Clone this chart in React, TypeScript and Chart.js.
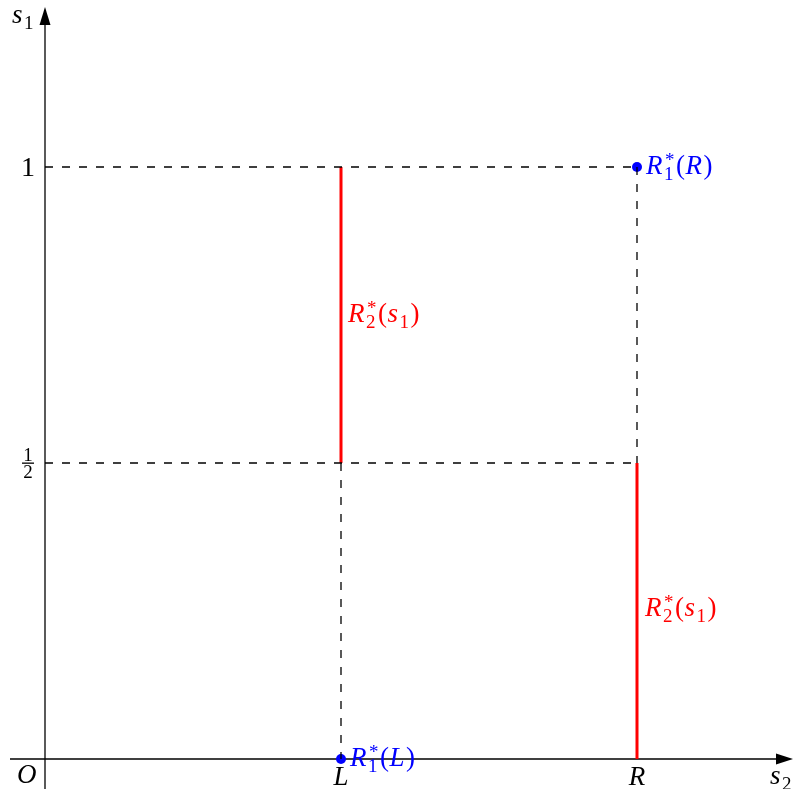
import React, { useEffect, useRef } from "react";
import { Chart, registerables } from "chart.js";
Chart.register(...registerables);

const W = 794;
const H = 789;

// ---- data ----
const xTickValues = [0.5, 1];
const xTickLabels = ["L", "R"];
const yTickValues = [0.5, 1];
const yTickLabels = ["1/2", "1"];

// best response of player 2 (red segments)
const r2LeftX = [0.5, 0.5];
const r2LeftY = [0.5, 1];
const r2RightX = [1, 1];
const r2RightY = [0, 0.5];

// best response of player 1 (blue points)
const r1PointX = [0.5, 1];
const r1PointY = [0, 1];
const r1PointArgs = ["L", "R"];

// dashed guide lines
const guideTopX = [0, 1];
const guideTopY = [1, 1];
const guideHalfX = [0, 1];
const guideHalfY = [0.5, 0.5];
const guideLX = [0.5, 0.5];
const guideLY = [0.5, 0];
const guideRX = [1, 1];
const guideRY = [1, 0.5];

const F = "'Liberation Serif', 'DejaVu Serif', serif";
const BLUE = "#0000ff";
const RED = "#ff0000";

const pts = (xs: number[], ys: number[]) => xs.map((x, i) => ({ x, y: ys[i] }));

type Seg = { t?: string; it?: boolean; sup?: string; sub?: string };

function drawMath(ctx: CanvasRenderingContext2D, x: number, y: number, segs: Seg[], size: number, color: string) {
  ctx.save();
  ctx.fillStyle = color;
  ctx.textBaseline = "alphabetic";
  ctx.textAlign = "left";
  let cx = x;
  for (const s of segs) {
    if (s.sup !== undefined || s.sub !== undefined) {
      const small = Math.round(size * 0.7);
      ctx.font = `${small}px ${F}`;
      let w = 0;
      if (s.sup) {
        ctx.fillText(s.sup, cx + 1, y - size * 0.28);
        w = Math.max(w, ctx.measureText(s.sup).width + 1);
      }
      if (s.sub) {
        ctx.fillText(s.sub, cx, y + size * 0.22);
        w = Math.max(w, ctx.measureText(s.sub).width);
      }
      cx += w + 1.5;
    } else if (s.t) {
      ctx.font = `${s.it ? "italic " : ""}${size}px ${F}`;
      ctx.fillText(s.t, cx, y);
      cx += ctx.measureText(s.t).width + (s.it ? 1.5 : 0.5);
    }
  }
  ctx.restore();
}

const axesPlugin = {
  id: "axesPlugin",
  beforeDatasetsDraw(chart: any) {
    const ctx: CanvasRenderingContext2D = chart.ctx;
    const xs = chart.scales.x;
    const ys = chart.scales.y;
    const ox = xs.getPixelForValue(0);
    const oy = ys.getPixelForValue(0);
    ctx.save();
    ctx.strokeStyle = "#000";
    ctx.fillStyle = "#000";
    ctx.lineWidth = 1.3;
    // y axis
    ctx.beginPath();
    ctx.moveTo(ox, H);
    ctx.lineTo(ox, 20);
    ctx.stroke();
    ctx.beginPath();
    ctx.moveTo(ox, 7);
    ctx.lineTo(ox - 5.5, 25);
    ctx.lineTo(ox + 5.5, 25);
    ctx.closePath();
    ctx.fill();
    // x axis
    ctx.beginPath();
    ctx.moveTo(10, oy);
    ctx.lineTo(W - 15, oy);
    ctx.stroke();
    ctx.beginPath();
    ctx.moveTo(W - 1, oy);
    ctx.lineTo(W - 18, oy - 5.5);
    ctx.lineTo(W - 18, oy + 5.5);
    ctx.closePath();
    ctx.fill();
    ctx.restore();
  },
  afterDatasetsDraw(chart: any) {
    const ctx: CanvasRenderingContext2D = chart.ctx;
    const xs = chart.scales.x;
    const ys = chart.scales.y;
    const S = 27;
    // axis names
    drawMath(ctx, 12, 23, [{ t: "s", it: true }, { sub: "1" }], S, "#000");
    drawMath(ctx, W - 24, 784, [{ t: "s", it: true }, { sub: "2" }], S, "#000");
    drawMath(ctx, 17, 783, [{ t: "O", it: true }], S, "#000");
    // x ticks
    ctx.save();
    ctx.fillStyle = "#000";
    ctx.textAlign = "center";
    ctx.textBaseline = "alphabetic";
    ctx.font = `italic ${S}px ${F}`;
    xTickValues.forEach((v, i) => {
      ctx.fillText(xTickLabels[i], xs.getPixelForValue(v), 785);
    });
    // y ticks
    yTickValues.forEach((v, i) => {
      const py = ys.getPixelForValue(v);
      const lab = yTickLabels[i];
      if (lab.includes("/")) {
        const [n, d] = lab.split("/");
        ctx.font = `${19}px ${F}`;
        ctx.textAlign = "center";
        ctx.fillText(n, 28, py - 2);
        ctx.fillText(d, 28, py + 15);
        ctx.fillRect(22, py - 0.5, 12, 1.3);
      } else {
        ctx.font = `${S + 1}px ${F}`;
        ctx.textAlign = "right";
        ctx.fillText(lab, 35, py + 9);
      }
    });
    ctx.restore();
    // R1* labels
    r1PointX.forEach((v, i) => {
      const px = xs.getPixelForValue(v);
      const py = ys.getPixelForValue(r1PointY[i]);
      drawMath(
        ctx,
        px + 9,
        py + 7,
        [{ t: "R", it: true }, { sup: "*", sub: "1" }, { t: "(" }, { t: r1PointArgs[i], it: true }, { t: ")" }],
        S,
        BLUE
      );
    });
    // R2* labels
    const r2Lab: Seg[] = [{ t: "R", it: true }, { sup: "*", sub: "2" }, { t: "(" }, { t: "s", it: true }, { sub: "1" }, { t: ")" }];
    drawMath(ctx, xs.getPixelForValue(r2LeftX[0]) + 7, ys.getPixelForValue(0.75) + 7, r2Lab, S, RED);
    drawMath(ctx, xs.getPixelForValue(r2RightX[0]) + 8, ys.getPixelForValue(0.25) + 5, r2Lab, S, RED);
  },
};

export default function App() {
  const ref = useRef<HTMLCanvasElement | null>(null);
  useEffect(() => {
    if (!ref.current) return;
    const dashed = (xs: number[], ys: number[]) => ({
      type: "line" as const,
      data: pts(xs, ys),
      borderColor: "#000",
      borderWidth: 1.3,
      borderDash: [8, 9],
      pointRadius: 0,
      fill: false,
    });
    const red = (xs: number[], ys: number[]) => ({
      type: "line" as const,
      data: pts(xs, ys),
      borderColor: RED,
      borderWidth: 3,
      pointRadius: 0,
      fill: false,
    });
    const chart = new Chart(ref.current, {
      type: "scatter",
      data: {
        datasets: [
          dashed(guideTopX, guideTopY),
          dashed(guideHalfX, guideHalfY),
          dashed(guideLX, guideLY),
          dashed(guideRX, guideRY),
          red(r2LeftX, r2LeftY),
          red(r2RightX, r2RightY),
          {
            type: "scatter" as const,
            data: pts(r1PointX, r1PointY),
            backgroundColor: BLUE,
            borderColor: BLUE,
            pointRadius: 5,
            borderWidth: 0,
          },
        ] as any,
      },
      options: {
        responsive: false,
        animation: false,
        events: [],
        layout: { padding: 0, autoPadding: false },
        plugins: { legend: { display: false }, tooltip: { enabled: false } },
        scales: {
          x: { type: "linear", display: false, min: -45 / 592, max: (W - 45) / 592 },
          y: { type: "linear", display: false, min: -(H - 759) / 592, max: 759 / 592 },
        },
      },
      plugins: [axesPlugin],
    });
    return () => chart.destroy();
  }, []);
  return (
    <div style={{ position: "fixed", left: 0, top: 0, width: W, height: H, background: "#fff" }}>
      <canvas ref={ref} width={W} height={H} style={{ width: W, height: H, display: "block" }} />
    </div>
  );
}
